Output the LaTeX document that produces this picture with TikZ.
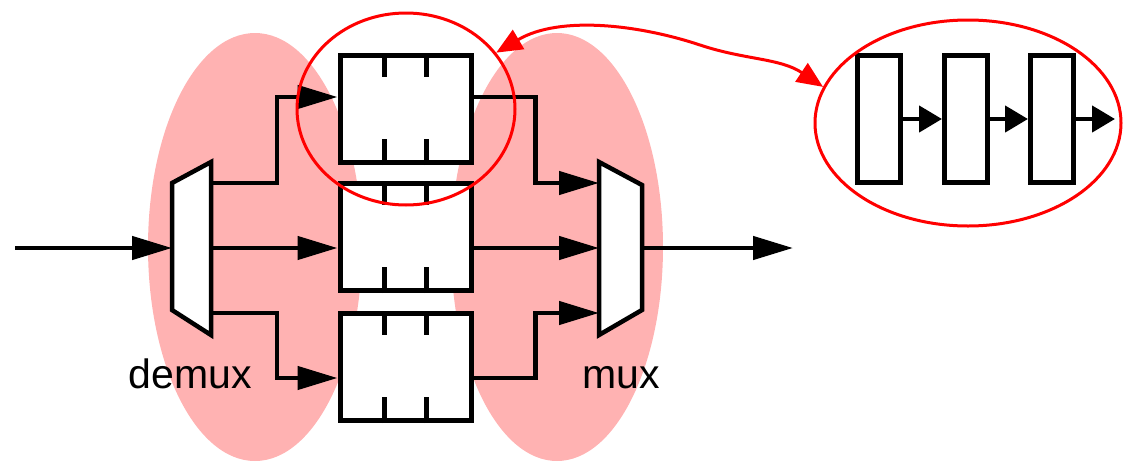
\documentclass[tikz,border=0pt]{standalone}
\usepackage{fontspec}
\setmainfont{Liberation Sans}
\usetikzlibrary{arrows.meta,shapes.geometric}
\definecolor{pinkfill}{RGB}{255,178,178}
\begin{document}
\begin{tikzpicture}[x=1pt,y=-1pt,
  wire/.style={line width=4.5pt},
  bigtip/.style={-{Triangle[length=40pt,width=23pt]}},
  smalltip/.style={-{Triangle[length=23pt,width=26pt]}},
  regbox/.style={draw, fill=white, line width=5pt, minimum width=131pt, minimum height=107pt, inner sep=0pt},
  stagebox/.style={draw, fill=white, line width=5pt, minimum width=43pt, minimum height=127pt, inner sep=0pt},
  halo/.style={draw=red, line width=3pt, ellipse, inner sep=0pt},
  redtip/.style={{Triangle[length=26pt,width=22pt]}-{Triangle[length=26pt,width=22pt]}},
  lbl/.style={font=\fontsize{41}{47}\selectfont, anchor=base, inner sep=0pt}]
\useasboundingbox (0,0) rectangle (1125,461);
\clip (0,0) rectangle (1125,461);
% pink regions
\fill[pinkfill] (255,247) ellipse [x radius=107, y radius=214];
\fill[pinkfill] (557,247) ellipse [x radius=106, y radius=214];
% named points
\coordinate (src) at (15,248);
\coordinate (demux-in) at (172,248);
\coordinate (demux-o1) at (211,183);
\coordinate (demux-o2) at (211,248);
\coordinate (demux-o3) at (211,313);
\coordinate (mux-i1) at (599,183);
\coordinate (mux-i2) at (599,248);
\coordinate (mux-i3) at (599,313);
\coordinate (mux-out) at (642,248);
\coordinate (sink) at (793,248);
% register boxes
\node[regbox] (b1) at (405.5,109) {};
\node[regbox] (b2) at (405.5,237) {};
\node[regbox] (b3) at (405.5,367) {};
\foreach \b in {b1,b2,b3}{
  \draw[wire] ([xshift=-21pt]\b.north) -- ++(0,24);
  \draw[wire] ([xshift=21pt]\b.north) -- ++(0,24);
  \draw[wire] ([xshift=-21pt]\b.south) -- ++(0,-26);
  \draw[wire] ([xshift=21pt]\b.south) -- ++(0,-26);
}
% connectors
\draw[wire,bigtip] (src) -- (demux-in);
\draw[wire,bigtip] (demux-o1) -- ++(66,0) |- ([yshift=12pt]b1.west);
\draw[wire,bigtip] (demux-o2) -- ([yshift=-11pt]b2.west);
\draw[wire,bigtip] (demux-o3) -- ++(66,0) |- ([yshift=-11pt]b3.west);
\draw[wire,bigtip] ([yshift=12pt]b1.east) -- ++(62,0) |- (mux-i1);
\draw[wire,bigtip] ([yshift=-11pt]b2.east) -- (mux-i2);
\draw[wire,bigtip] ([yshift=-11pt]b3.east) -- ++(62,0) |- (mux-i3);
\draw[wire,bigtip] (mux-out) -- (sink);
% demux and mux
\draw[wire, fill=white, line join=miter] (172,183) -- (211,162) -- (211,335) -- (172,310) -- cycle;
\draw[wire, fill=white, line join=miter] (599,162) -- (642,185) -- (642,310) -- (599,335) -- cycle;
% labels
\node[lbl] (demuxlbl) at (190,388) {demux};
\node[lbl] (muxlbl) at (621,388) {mux};
% inset pipeline
\node[stagebox] (s1) at (879,119) {};
\node[stagebox] (s2) at (966,119) {};
\node[stagebox] (s3) at (1052,119) {};
\coordinate (s-out) at (1115,119);
\draw[wire,smalltip] (s1) -- (s2);
\draw[wire,smalltip] (s2) -- (s3);
\draw[wire,smalltip] (s3) -- (s-out);
% red highlights
\node[halo, minimum width=218pt, minimum height=192pt] (zoomc) at (406,109) {};
\node[halo, minimum width=306pt, minimum height=206pt] (zoome) at (968,123) {};
\draw[red, line width=3pt, redtip] (zoomc.32) .. controls (560,15) and (640,25) .. (700,45) .. controls (745,60) and (780,58) .. (zoome.166);
\end{tikzpicture}
\end{document}
